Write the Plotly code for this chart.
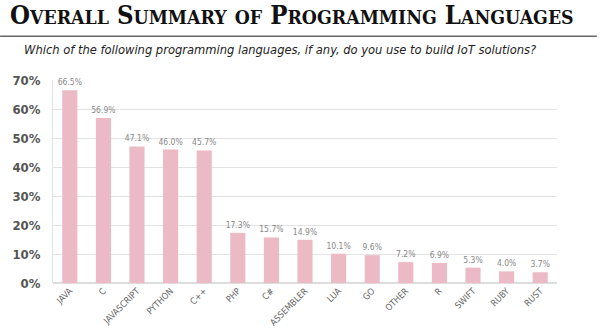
import plotly.graph_objects as go

languages = ["JAVA", "C", "JAVASCRIPT", "PYTHON", "C++", "PHP", "C#", "ASSEMBLER",
             "LUA", "GO", "OTHER", "R", "SWIFT", "RUBY", "RUST"]
usage_pct = [66.5, 56.9, 47.1, 46.0, 45.7, 17.3, 15.7, 14.9,
             10.1, 9.6, 7.2, 6.9, 5.3, 4.0, 3.7]
y_ticks = [0, 10, 20, 30, 40, 50, 60, 70]

SANS = "DejaVu Sans, sans-serif"
SERIF = "DejaVu Serif, serif"


def narrow(s):
    return f"<span style='font-stretch:condensed'>{s}</span>"


fig = go.Figure()
fig.add_trace(go.Bar(
    x=languages,
    y=usage_pct,
    width=0.45,
    marker=dict(color="#ecbac5", line=dict(width=0)),
    text=[narrow(f"{v:.1f}%") for v in usage_pct],
    textposition="outside",
    constraintext="none",
    cliponaxis=False,
    textfont=dict(family=SANS, size=8.5, color="#888888"),
))
fig.update_xaxes(tickvals=languages, ticktext=[narrow(c) for c in languages])


def small_caps(text, small=19.3):
    words = []
    for w in text.split(" "):
        if w[0].isupper():
            words.append(f"{w[0]}<span style='font-size:{small}px'>{w[1:].upper()}</span>")
        else:
            words.append(f"<span style='font-size:{small}px'>{w.upper()}</span>")
    return " ".join(words)


fig.add_annotation(
    text="<b><span style='font-stretch:condensed'>"
         + small_caps("Overall Summary of Programming Languages") + "</span></b>",
    xref="paper", yref="paper", x=-0.09, y=1.32,
    xanchor="left", yanchor="middle", showarrow=False,
    font=dict(family=SERIF, size=25.5, color="#111111"),
)
fig.add_annotation(
    text="<i>" + narrow("Which of the following programming languages, if any, "
                        "do you use to build IoT solutions?") + "</i>",
    xref="paper", yref="paper", x=-0.062, y=1.15,
    xanchor="left", yanchor="middle", showarrow=False,
    font=dict(family=SANS, size=12.8, color="#222222"),
)
fig.add_shape(
    type="line", xref="paper", yref="paper",
    x0=-0.105, x1=1.079, y0=1.215, y1=1.215,
    line=dict(color="#666666", width=1.5),
)

fig.update_layout(
    width=600, height=331,
    margin=dict(l=53, r=43, t=80, b=48),
    paper_bgcolor="white", plot_bgcolor="white",
    showlegend=False,
    bargap=0.55,
    xaxis=dict(
        tickangle=-45,
        tickfont=dict(family=SANS, size=9, color="#666666"),
        showgrid=False, showline=False, ticks="",
        automargin=False,
    ),
    yaxis=dict(
        range=[0, 70],
        tickvals=y_ticks,
        ticktext=[narrow(f"<b>{t}%</b>") for t in y_ticks],
        tickfont=dict(family=SANS, size=13, color="#555555"),
        ticklabelstandoff=9,
        showgrid=True, gridcolor="#e3e3e3", gridwidth=1,
        showline=True, linecolor="#e3e3e3",
        zeroline=True, zerolinecolor="#dddddd",
        ticks="", ticklen=0,
        automargin=False,
    ),
)

fig.write_html("out.html")
